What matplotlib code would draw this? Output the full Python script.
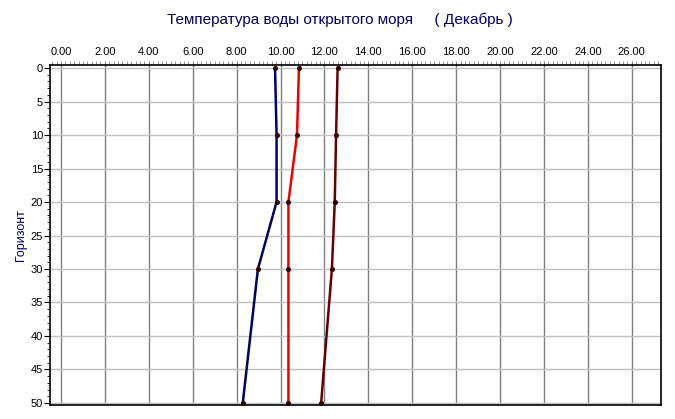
import matplotlib
matplotlib.use("Agg")
import matplotlib.pyplot as plt
from matplotlib.ticker import MultipleLocator, FormatStrFormatter

# --- data ---
depth = [0, 10, 20, 30, 50]
temp_blue = [9.75, 9.82, 9.82, 8.97, 8.28]
temp_red = [10.84, 10.75, 10.36, 10.36, 10.36]
temp_dark = [12.6, 12.53, 12.47, 12.34, 11.85]

series = [
    (temp_blue, "#000066"),
    (temp_red, "#ee0000"),
    (temp_dark, "#660000"),
]

plt.rcParams["font.family"] = ["Liberation Sans", "DejaVu Sans"]

fig = plt.figure(figsize=(6.75, 4.19), dpi=100)
ax = fig.add_axes([50 / 675, 1 - 405 / 419, 611 / 675, 340 / 419])

for vals, col in series:
    ax.plot(vals, depth, color=col, lw=1.8, zorder=3)
    ax.plot(vals, depth, "o", color="#330000", ms=2.6, zorder=4)

ax.set_xlim(-0.5, 27.33)
ax.set_ylim(50.3, -0.45)

ax.xaxis.tick_top()
ax.xaxis.set_major_locator(MultipleLocator(2))
ax.xaxis.set_minor_locator(MultipleLocator(0.2))
ax.xaxis.set_major_formatter(FormatStrFormatter("%.2f"))
ax.yaxis.set_major_locator(MultipleLocator(5))
ax.yaxis.set_minor_locator(MultipleLocator(1))

ax.tick_params(axis="x", which="major", length=3, labelsize=8, pad=3, direction="out", color="#808080")
ax.tick_params(axis="x", which="minor", length=3, direction="out", color="#808080")
ax.tick_params(axis="y", which="major", length=4, labelsize=8, pad=1, direction="out")
ax.tick_params(axis="y", which="minor", length=2, direction="out")

ax.grid(True, axis="x", color="#808080", lw=1)
ax.grid(True, axis="y", color="#c0c0c0", lw=1)
ax.set_axisbelow(True)

for s in ax.spines.values():
    s.set_linewidth(1.2)
    s.set_color("black")

ax.set_ylabel("Горизонт", color="#000066", fontsize=9, labelpad=3)
fig.text(340 / 675, 1 - 20 / 419, "Температура воды открытого моря     ( Декабрь )",
         ha="center", va="center", color="#000066", fontsize=11)

fig.savefig("out.png", dpi=100)
